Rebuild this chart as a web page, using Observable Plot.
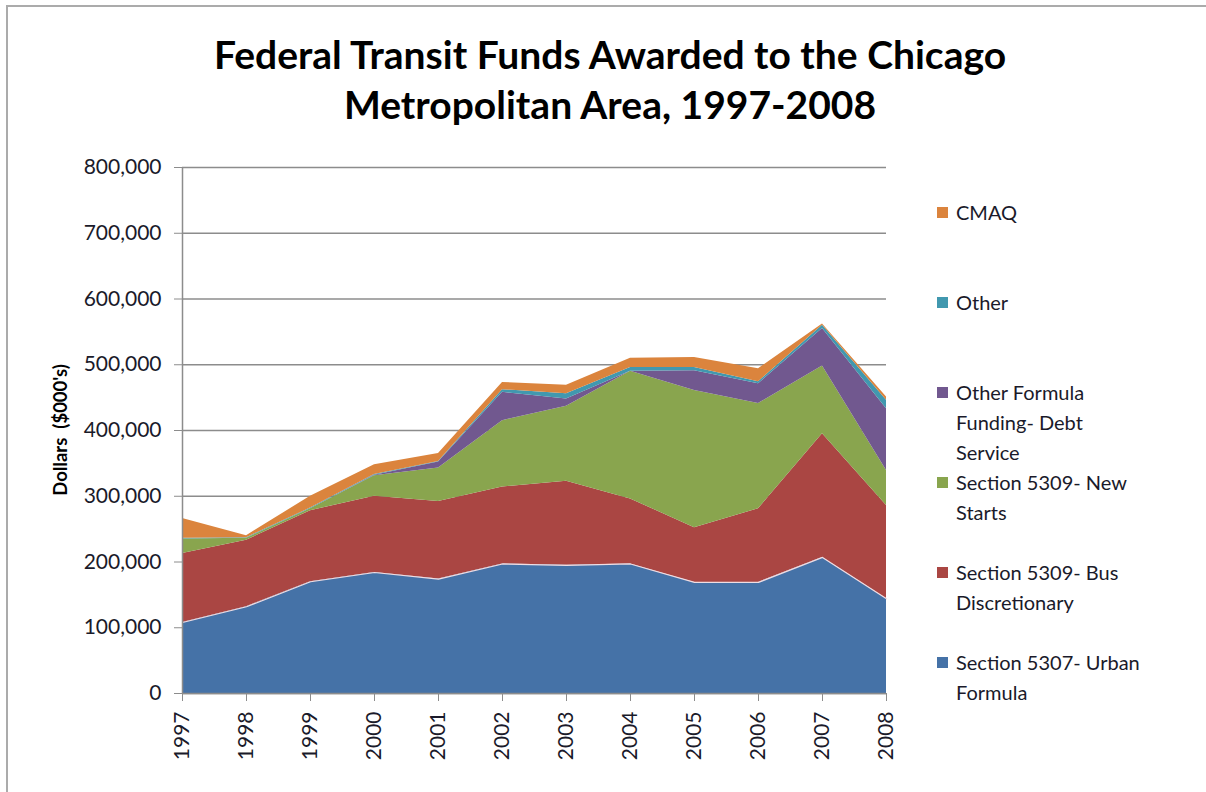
<!DOCTYPE html>
<html>
<head>
<meta charset="utf-8">
<script src="https://cdn.jsdelivr.net/npm/d3@7"></script>
<script src="https://cdn.jsdelivr.net/npm/@observablehq/plot@0.6"></script>
<style>
  html, body { margin: 0; padding: 0; background: #fff; }
  #wrap { position: relative; width: 1206px; height: 792px; overflow: hidden; font-family: Lato, "Open Sans", sans-serif; }
  #frame { position: absolute; left: 6px; top: 5px; width: 1300px; height: 900px; border-top: 2px solid #ababab; border-left: 2px solid #ababab; }
  #title { position: absolute; left: 0; top: 29px; width: 1220px; text-align: center; font-weight: bold; font-size: 39px; line-height: 50px; color: #000; }
  #ylabel { position: absolute; left: 60px; top: 430px; transform: translate(-50%, -50%) rotate(-90deg); font-weight: bold; font-size: 18.5px; white-space: nowrap; color: #000; }
  #chart { position: absolute; left: 0; top: 150px; }
  .leg { position: absolute; left: 937px; display: flex; align-items: flex-start; }
  .sw { width: 11px; height: 11px; margin-top: 10px; margin-right: 8px; flex: none; }
  .lt { font-size: 20px; line-height: 30px; white-space: pre-line; color: #1a1a2a; }
</style>
</head>
<body>
<div id="wrap">
  <div id="frame"></div>
  <div id="title">Federal Transit Funds Awarded to the Chicago<br>Metropolitan Area, 1997-2008</div>
  <div id="ylabel">Dollars&nbsp; ($000's)</div>
  <div id="chart"></div>
  <div id="legend"></div>
</div>
<script>
const years = [1997, 1998, 1999, 2000, 2001, 2002, 2003, 2004, 2005, 2006, 2007, 2008];
const seriesNames = [
  "Section 5307- Urban Formula",
  "Section 5309- Bus Discretionary",
  "Section 5309- New Starts",
  "Other Formula Funding- Debt Service",
  "Other",
  "CMAQ"
];
const seriesColors = ["#4572A7", "#AA4643", "#89A54E", "#71588F", "#4198AF", "#DB843D"];
const urbanFormula     = [108000, 132000, 170000, 184000, 174000, 197000, 195000, 197000, 169000, 169000, 207000, 144000];
const busDiscretionary = [105000, 101000, 108000, 116000, 118000, 117000, 128000,  99000,  83000, 112000, 188000, 142000];
const newStarts        = [ 22000,   3000,   3000,  31000,  51000, 101000, 114000, 194000, 209000, 160000, 103000,  53000];
const debtService      = [     0,      0,      0,   1000,   9000,  43000,  11000,      0,  30000,  30000,  57000,  94000];
const otherFunds       = [  1000,   1000,   1000,   1000,   1000,   4000,   8000,   6000,   5000,   3000,   5000,  13000];
const cmaq             = [ 30000,   3000,  18000,  15000,  12000,  11000,  13000,  14000,  15000,  20000,   2000,   5000];
const yTicks = [0, 100000, 200000, 300000, 400000, 500000, 600000, 700000, 800000];
const legendLabels = ["Section 5307- Urban\nFormula", "Section 5309- Bus\nDiscretionary", "Section 5309- New\nStarts", "Other Formula\nFunding- Debt\nService", "Other", "CMAQ"];

const seriesValues = [urbanFormula, busDiscretionary, newStarts, debtService, otherFunds, cmaq];
const long = [];
seriesNames.forEach((s, i) => years.forEach((y, j) => long.push({year: y, series: s, value: seriesValues[i][j]})));
const blueTop = years.map((y, j) => ({year: y, value: urbanFormula[j]}));

const axisGray = "#8c8c8c";
const chart = Plot.plot({
  width: 1206,
  height: 642,
  marginLeft: 182,
  marginRight: 320,
  marginTop: 17,
  marginBottom: 99,
  style: {fontFamily: "Lato, sans-serif", fontSize: "21px", color: "#1a1a2a", background: "transparent"},
  x: {domain: [1997, 2008]},
  y: {domain: [0, 800000]},
  color: {domain: seriesNames, range: seriesColors},
  marks: [
    Plot.gridY({ticks: yTicks, stroke: axisGray, strokeOpacity: 1, strokeWidth: 1.5}),
    Plot.areaY(long, {x: "year", y: "value", fill: "series", order: seriesNames}),
    Plot.lineY(blueTop, {x: "year", y: "value", stroke: "#f0dde3", strokeWidth: 1.2}),
    Plot.ruleX([1997], {stroke: axisGray, strokeWidth: 1.5}),
    Plot.ruleY([0], {stroke: axisGray, strokeWidth: 1.5}),
    Plot.axisY({ticks: yTicks, tickFormat: d3.format(","), tickSize: 8, tickPadding: 13, stroke: axisGray, label: null}),
    Plot.axisX({ticks: years, tickFormat: d => String(d), tickRotate: -90, tickSize: 8, tickPadding: 10, stroke: axisGray, label: null})
  ]
});
document.getElementById("chart").appendChild(chart);

const legendTops = {"CMAQ": 197, "Other": 287, "Other Formula Funding- Debt Service": 377, "Section 5309- New Starts": 467, "Section 5309- Bus Discretionary": 557, "Section 5307- Urban Formula": 647};
const legend = document.getElementById("legend");
seriesNames.forEach((s, i) => {
  const item = document.createElement("div");
  item.className = "leg";
  item.style.top = legendTops[s] + "px";
  const sw = document.createElement("div");
  sw.className = "sw";
  sw.style.background = seriesColors[i];
  const t = document.createElement("div");
  t.className = "lt";
  t.textContent = legendLabels[i];
  item.appendChild(sw);
  item.appendChild(t);
  legend.appendChild(item);
});
</script>
</body>
</html>
